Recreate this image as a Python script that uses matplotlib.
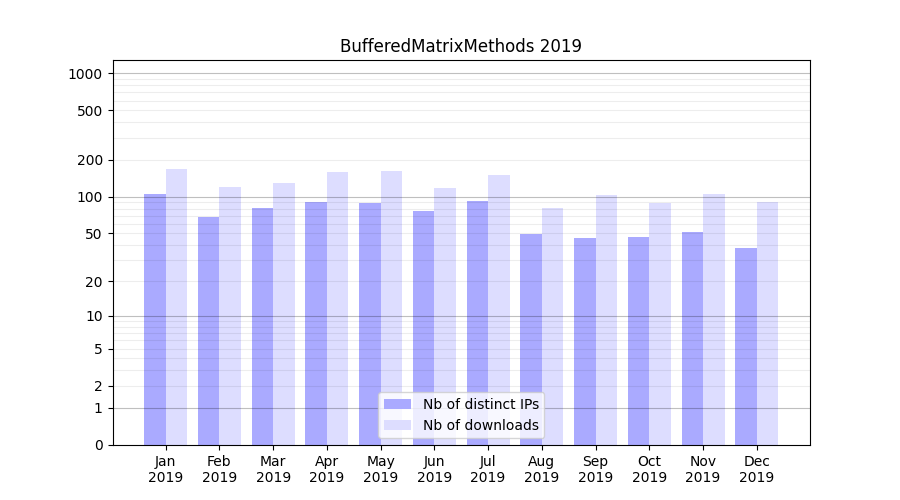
import numpy as np
import matplotlib
matplotlib.use("Agg")
import matplotlib.pyplot as plt
from matplotlib.ticker import FixedLocator, FixedFormatter

months = ["Jan", "Feb", "Mar", "Apr", "May", "Jun", "Jul", "Aug", "Sep", "Oct", "Nov", "Dec"]
year = "2019"
distinct_ips = [105, 68, 81, 90, 89, 76, 92, 49, 46, 47, 51, 38]
downloads = [168, 120, 129, 159, 162, 118, 150, 81, 103, 89, 105, 90]
ytick_values = [0, 1, 2, 5, 10, 20, 50, 100, 200, 500, 1000]

fig, ax = plt.subplots(figsize=(9, 5), dpi=100)
ax.set_yscale("function", functions=(lambda v: np.log10(np.maximum(v, 0) + 1),
                                     lambda v: 10 ** v - 1))
x = np.arange(len(months))
w = 0.4
ax.bar(x, distinct_ips, width=-w, align="edge", color="#aaaaff", label="Nb of distinct IPs")
ax.bar(x, downloads, width=w, align="edge", color="#ddddff", label="Nb of downloads")

ax.set_ylim(0, 1279)
major = [1, 10, 100, 1000]
minor = [m * d for d in (1, 10, 100) for m in range(2, 10)]
ax.yaxis.set_major_locator(FixedLocator(ytick_values))
ax.yaxis.set_major_formatter(FixedFormatter([str(v) for v in ytick_values]))
ax.yaxis.set_minor_locator(FixedLocator([]))
for v in major:
    ax.axhline(v, color="black", alpha=0.25, linewidth=0.8, zorder=1.5)
for v in minor:
    ax.axhline(v, color="black", alpha=0.07, linewidth=0.8, zorder=1.5)

ax.set_xticks(x)
ax.set_xticklabels([f"{m}\n{year}" for m in months])
ax.set_title("BufferedMatrixMethods 2019")
ax.legend(loc="lower center")
fig.savefig("out.png", dpi=100)
